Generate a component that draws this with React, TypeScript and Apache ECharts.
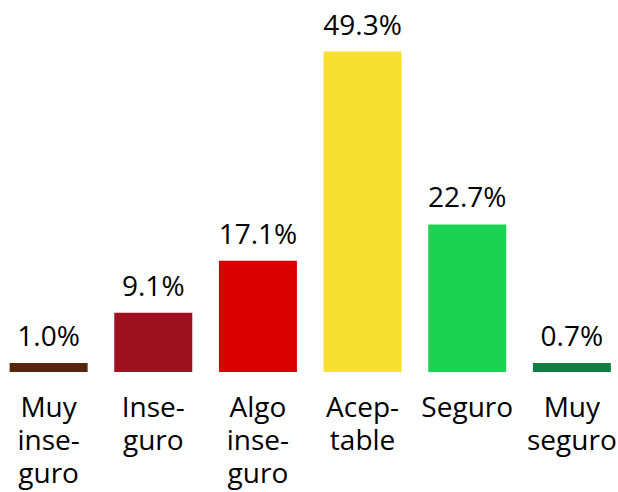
import React, { useEffect, useRef } from "react";
import * as echarts from "echarts";

const categories = ["Muy\ninse-\nguro", "Inse-\nguro", "Algo\ninse-\nguro", "Acep-\ntable", "Seguro", "Muy\nseguro"];
const values = [1.0, 9.1, 17.1, 49.3, 22.7, 0.7];
const colors = ["#57250c", "#9e1020", "#d90000", "#f8df30", "#1cd253", "#0e7e43"];

export default function App() {
  const ref = useRef<HTMLDivElement>(null);
  useEffect(() => {
    const chart = echarts.init(ref.current!, null, { renderer: "svg" });
    chart.setOption({
      animation: false,
      grid: { left: -3.7, right: -6.2, top: 47, bottom: 120, outerBoundsMode: "none", containLabel: false },
      xAxis: {
        type: "category",
        data: categories,
        axisLine: { show: false },
        axisTick: { show: false },
        axisLabel: {
          interval: 0,
          fontFamily: "Open Sans",
          fontSize: 28,
          color: "#000",
          lineHeight: 33,
          margin: 17,
        },
      },
      yAxis: { type: "value", min: 0, max: 50, show: false, splitLine: { show: false } },
      series: [
        {
          type: "bar",
          barWidth: 78,
          barMinHeight: 9,
          data: values.map((v, i) => ({ value: v, itemStyle: { color: colors[i] } })),
          label: {
            show: true,
            position: "top",
            distance: 14,
            fontFamily: "Open Sans",
            fontSize: 28,
            lineHeight: 28,
            color: "#000",
            formatter: (p: any) => Number(p.value).toFixed(1) + "%",
          },
        },
      ],
    });
    return () => chart.dispose();
  }, []);
  return <div ref={ref} style={{ width: 618, height: 492, position: "absolute", left: 0, top: 0 }} />;
}
